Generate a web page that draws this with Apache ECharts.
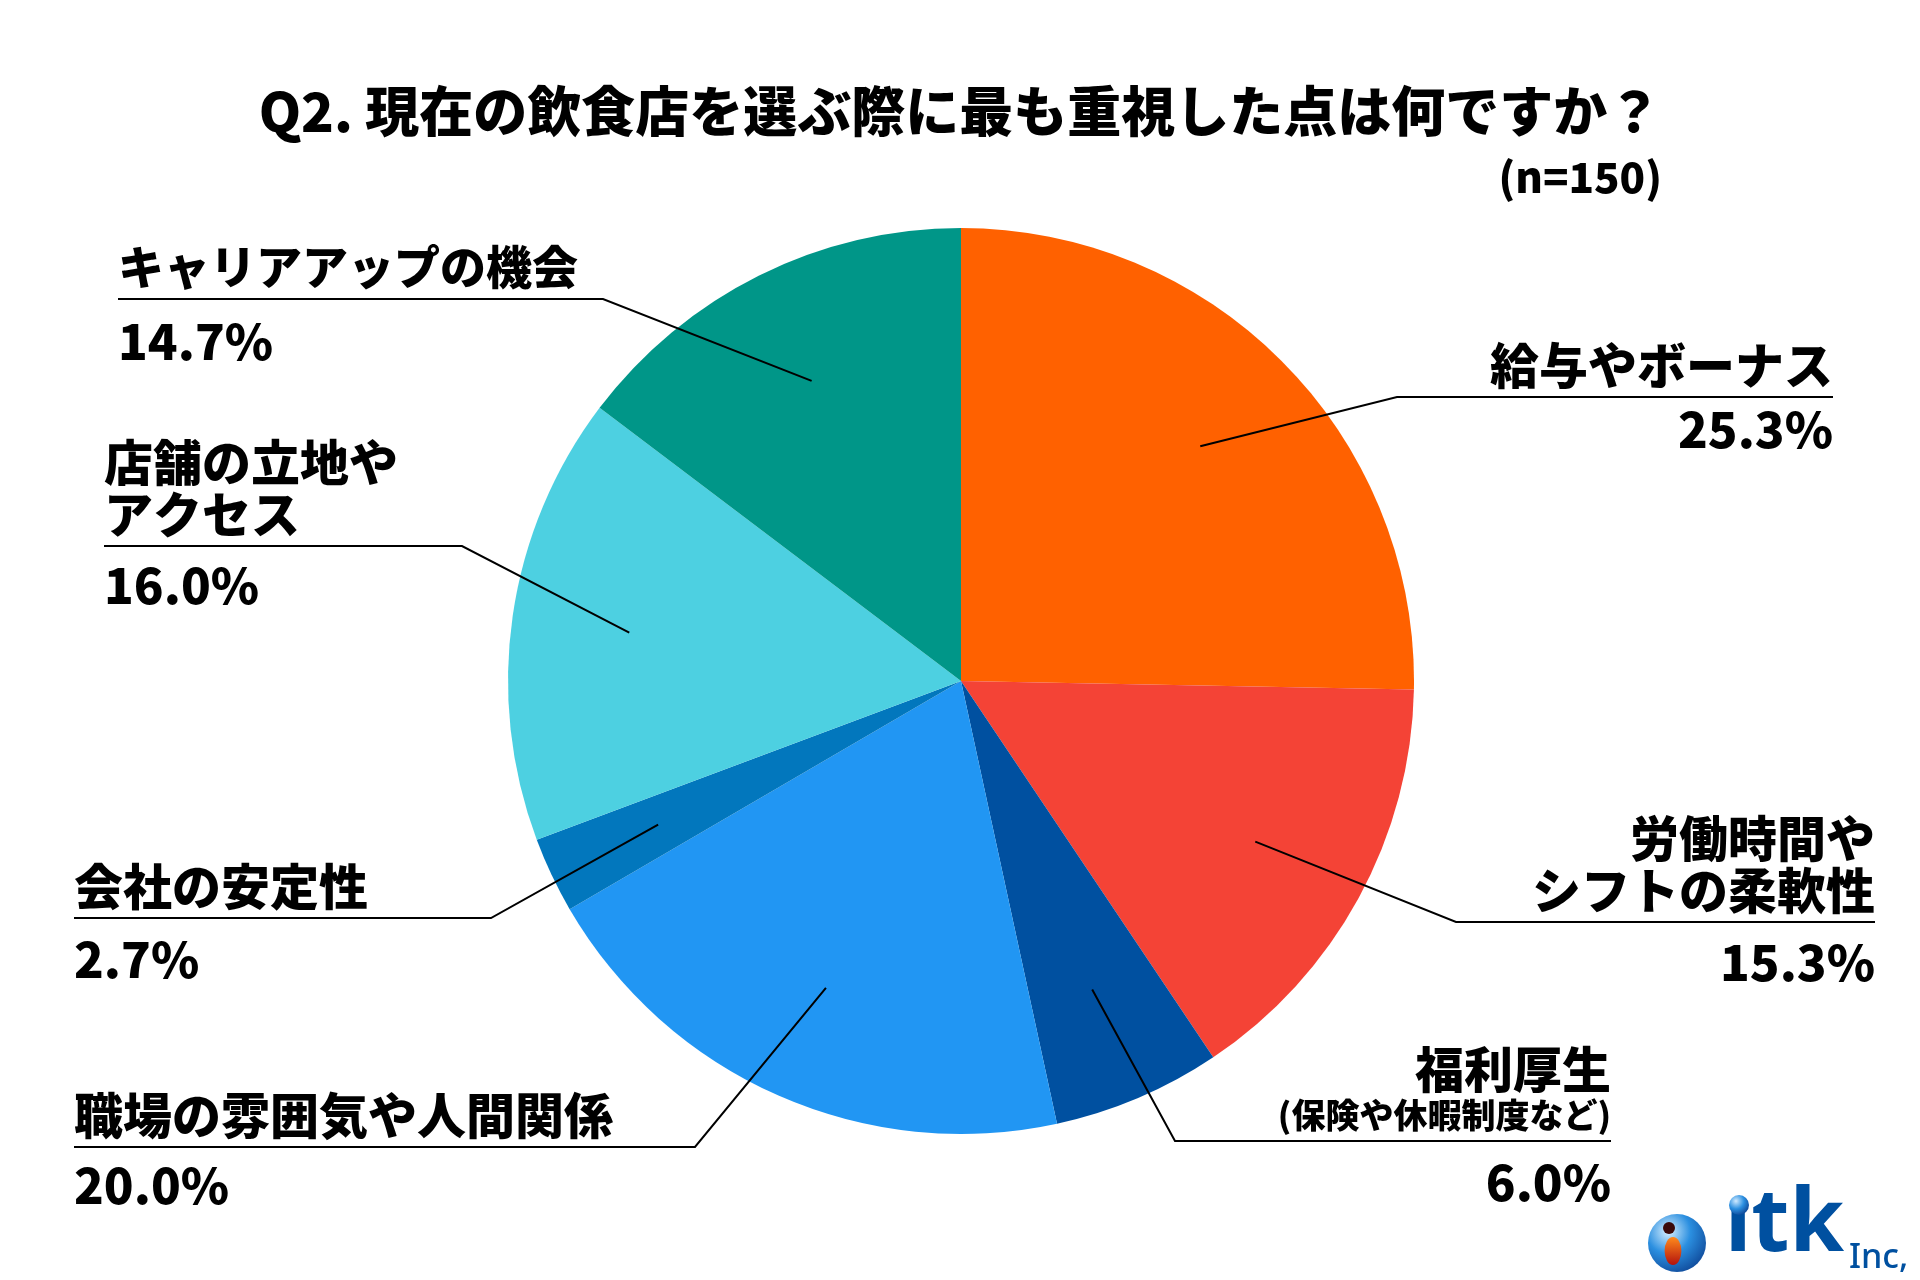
<!DOCTYPE html>
<html><head><meta charset="utf-8">
<script src="https://cdn.jsdelivr.net/npm/echarts@6/dist/echarts.min.js"></script>
<style>html,body{margin:0;padding:0;background:#fff}#c{width:1920px;height:1280px}</style>
</head><body><div id="c"></div>
<script>
// ---- data ----
const categories = ['給与やボーナス', '労働時間や\nシフトの柔軟性', '福利厚生', '職場の雰囲気や人間関係', '会社の安定性', '店舗の立地や\nアクセス', 'キャリアアップの機会'];
const subNotes = ['', '', '(保険や休暇制度など)', '', '', '', ''];
const values = [25.3, 15.3, 6.0, 20.0, 2.7, 16.0, 14.7];
const titleText = 'Q2. 現在の飲食店を選ぶ際に最も重視した点は何ですか？';
const sampleText = '(n=150)';

// ---- styles / layout ----
const colors = ['#FF6100', '#F44336', '#0050A0', '#2196F3', '#0277BD', '#4DD0E1', '#009688'];
const FONT = '"Noto Sans CJK JP", "Noto Sans", sans-serif';
const W = 900;
const labelPos = [
  {x: 1833, y: 397, elbow: 1397, align: 'right', pctGap: 32, nameSize: 49},
  {x: 1875, y: 922, elbow: 1456, align: 'right', pctGap: 40, nameSize: 49},
  {x: 1611, y: 1141, elbow: 1175, align: 'right', pctGap: 41, nameSize: 49},
  {x: 74, y: 1147, elbow: 695, align: 'left', pctGap: 38, nameSize: 49},
  {x: 74, y: 918, elbow: 491, align: 'left', pctGap: 41, nameSize: 49},
  {x: 104, y: 546, elbow: 462, align: 'left', pctGap: 39, nameSize: 49},
  {x: 118, y: 299, elbow: 603, align: 'left', pctGap: 42, nameSize: 46}
];
const NAME_LH = 52, SUB_LH = 40, GAP = 6;
const CX = 961, CY = 681, R = 453;

const rich = {
  s: {fontSize: 34, fontWeight: W, lineHeight: SUB_LH, fontFamily: FONT, color: '#000'}
};
labelPos.forEach((L, i) => {
  rich['n' + i] = {fontSize: L.nameSize, fontWeight: W, lineHeight: NAME_LH, fontFamily: FONT, color: '#000'};
  rich['p' + i] = {fontSize: 49, fontWeight: W, lineHeight: 2 * (L.pctGap + GAP), fontFamily: FONT, color: '#000'};
});

function aboveHeight(i) {
  return categories[i].split('\n').length * NAME_LH + (subNotes[i] ? SUB_LH : 0) + GAP;
}

const pieData = categories.map((name, i) => ({name: name, value: values[i]}));

const chart = echarts.init(document.getElementById('c'), null, {renderer: 'canvas'});
chart.setOption({
  backgroundColor: '#fff',
  animation: false,
  color: colors,
  title: [
    {text: titleText, left: 'center', top: 81, padding: 0,
     textStyle: {fontSize: 54, fontWeight: W, fontFamily: FONT, color: '#000', lineHeight: 60}},
    {text: sampleText, right: 258, top: 154, padding: 0,
     textStyle: {fontSize: 42, fontWeight: W, fontFamily: FONT, color: '#000', lineHeight: 46}}
  ],
  series: [
    {
      type: 'pie', center: [CX, CY], radius: [0, R], startAngle: 90, clockwise: true,
      silent: true, label: {show: false}, labelLine: {show: false},
      data: pieData
    },
    {
      type: 'pie', center: [CX, CY], radius: [0, R * 0.74], startAngle: 90, clockwise: true,
      silent: true, avoidLabelOverlap: false, z: 5,
      itemStyle: {color: 'rgba(0,0,0,0)'},
      label: {
        show: true, position: 'outer', alignTo: 'none',
        formatter: function (p) {
          const i = p.dataIndex;
          const lines = categories[i].split('\n').map(s => '{n' + i + '|' + s + '}');
          if (subNotes[i]) lines.push('{s|' + subNotes[i] + '}');
          lines.push('{p' + i + '|' + values[i].toFixed(1) + '%}');
          return lines.join('\n');
        },
        rich: rich
      },
      labelLine: {show: true, length: 20, length2: 20, lineStyle: {color: '#000', width: 2}},
      labelLayout: function (params) {
        const i = params.dataIndex;
        const L = labelPos[i];
        const p0 = params.labelLinePoints ? params.labelLinePoints[0] : [CX, CY];
        return {
          x: L.x, y: L.y - aboveHeight(i), align: L.align, verticalAlign: 'top',
          labelLinePoints: [p0, [L.elbow, L.y], [L.x, L.y]]
        };
      },
      data: pieData
    }
  ],
  graphic: [
    {type: 'circle', shape: {cx: 1677, cy: 1243, r: 29},
     style: {fill: new echarts.graphic.RadialGradient(0.35, 0.3, 0.85, [
       {offset: 0, color: '#d8f0ff'}, {offset: 0.45, color: '#2b8fe0'}, {offset: 1, color: '#0a3c8c'}])}},
    {type: 'circle', shape: {cx: 1669, cy: 1228, r: 6}, style: {fill: '#3a0a0a'}},
    {type: 'circle', shape: {cx: 1673, cy: 1251, r: 14}, scaleX: 0.6, originX: 1673, originY: 1251,
     style: {fill: new echarts.graphic.LinearGradient(0, 0, 0, 1, [
       {offset: 0, color: '#ff8a1c'}, {offset: 1, color: '#b3120d'}])}},
    {type: 'text', x: 1725, y: 1270,
     style: {text: 'ıtk', font: 'bold 88px "Noto Sans", "DejaVu Sans", sans-serif', fill: '#0050A0',
             align: 'left', verticalAlign: 'bottom', textAlign: 'left', textVerticalAlign: 'bottom'}},
    {type: 'circle', shape: {cx: 1739, cy: 1205, r: 10},
     style: {fill: new echarts.graphic.RadialGradient(0.35, 0.3, 0.8, [
       {offset: 0, color: '#cfeaff'}, {offset: 0.5, color: '#2b8fe0'}, {offset: 1, color: '#0a3c8c'}])}},
    {type: 'text', x: 1849, y: 1275,
     style: {text: 'Inc,', font: '500 34px "Noto Sans", sans-serif', fill: '#0050A0',
             align: 'left', verticalAlign: 'bottom', textAlign: 'left', textVerticalAlign: 'bottom'}}
  ]
});
</script>
</body></html>
